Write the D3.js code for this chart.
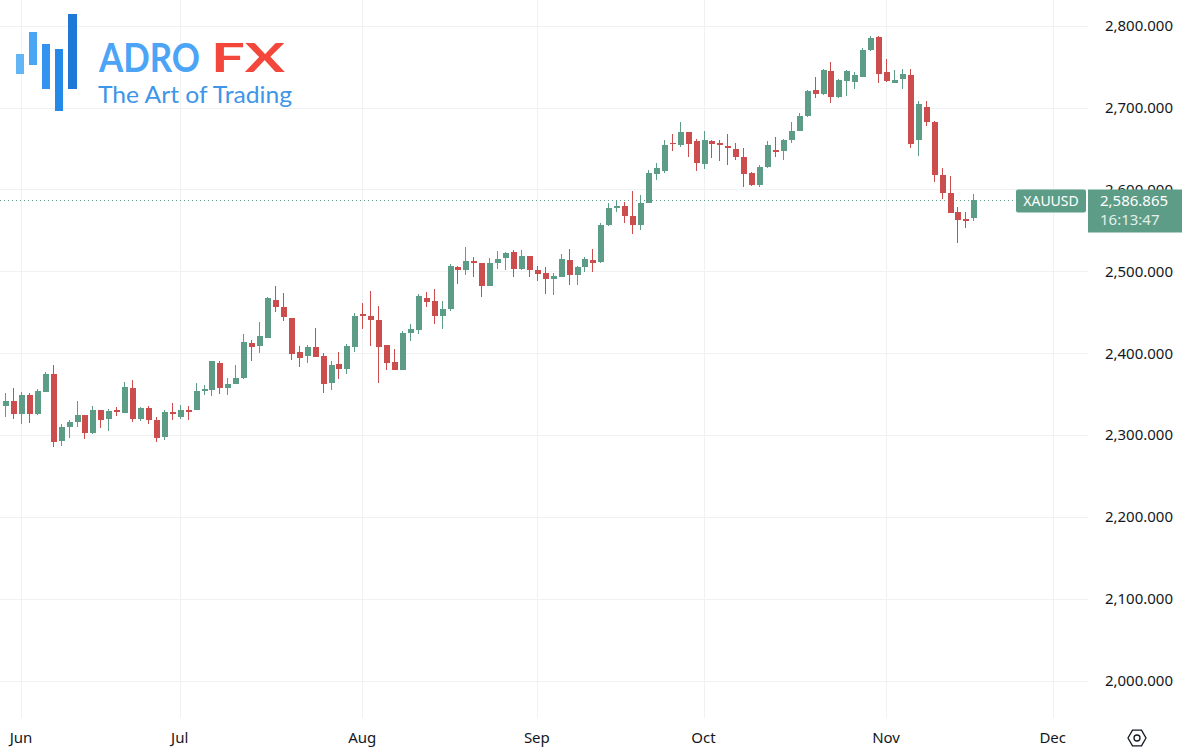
<!DOCTYPE html>
<html>
<head>
<meta charset="utf-8">
<script src="https://cdn.jsdelivr.net/npm/d3@7"></script>
<style>
	html, body { margin: 0; padding: 0; background: #ffffff; }
	svg { display: block; }
</style>
</head>
<body>
<div id="chart"></div>
<script>
// XAUUSD daily candles
const dates = [
	"2024-05-30", "2024-05-31",
	"2024-06-03", "2024-06-04", "2024-06-05", "2024-06-06", "2024-06-07",
	"2024-06-10", "2024-06-11", "2024-06-12", "2024-06-13", "2024-06-14",
	"2024-06-17", "2024-06-18", "2024-06-19", "2024-06-20", "2024-06-21",
	"2024-06-24", "2024-06-25", "2024-06-26", "2024-06-27", "2024-06-28",
	"2024-07-01", "2024-07-02", "2024-07-03", "2024-07-04", "2024-07-05",
	"2024-07-08", "2024-07-09", "2024-07-10", "2024-07-11", "2024-07-12",
	"2024-07-15", "2024-07-16", "2024-07-17", "2024-07-18", "2024-07-19",
	"2024-07-22", "2024-07-23", "2024-07-24", "2024-07-25", "2024-07-26",
	"2024-07-29", "2024-07-30", "2024-07-31", "2024-08-01", "2024-08-02",
	"2024-08-05", "2024-08-06", "2024-08-07", "2024-08-08", "2024-08-09",
	"2024-08-12", "2024-08-13", "2024-08-14", "2024-08-15", "2024-08-16",
	"2024-08-19", "2024-08-20", "2024-08-21", "2024-08-22", "2024-08-23",
	"2024-08-26", "2024-08-27", "2024-08-28", "2024-08-29", "2024-08-30",
	"2024-09-02", "2024-09-03", "2024-09-04", "2024-09-05", "2024-09-06",
	"2024-09-09", "2024-09-10", "2024-09-11", "2024-09-12", "2024-09-13",
	"2024-09-16", "2024-09-17", "2024-09-18", "2024-09-19", "2024-09-20",
	"2024-09-23", "2024-09-24", "2024-09-25", "2024-09-26", "2024-09-27",
	"2024-09-30", "2024-10-01", "2024-10-02", "2024-10-03", "2024-10-04",
	"2024-10-07", "2024-10-08", "2024-10-09", "2024-10-10", "2024-10-11",
	"2024-10-14", "2024-10-15", "2024-10-16", "2024-10-17", "2024-10-18",
	"2024-10-21", "2024-10-22", "2024-10-23", "2024-10-24", "2024-10-25",
	"2024-10-28", "2024-10-29", "2024-10-30", "2024-10-31", "2024-11-01",
	"2024-11-04", "2024-11-05", "2024-11-06", "2024-11-07", "2024-11-08",
	"2024-11-11", "2024-11-12", "2024-11-13", "2024-11-14", "2024-11-15",
	"2024-11-18"
];

const opens = [
	2336, 2342,
	2326, 2349, 2326, 2353, 2374,
	2293, 2310, 2316, 2324, 2302,
	2331, 2319, 2330, 2327, 2357,
	2319, 2333, 2318, 2297, 2328,
	2322, 2330, 2330, 2354, 2355,
	2388, 2357, 2362, 2370, 2412,
	2409, 2419, 2465, 2457, 2443,
	2402, 2396, 2407, 2396, 2363,
	2387, 2381, 2408, 2448, 2446,
	2441, 2410, 2389, 2380, 2425,
	2428, 2468, 2464, 2446, 2454,
	2505, 2502, 2512, 2510, 2482,
	2510, 2516, 2523, 2503, 2519,
	2501, 2498, 2491, 2493, 2514,
	2495, 2505, 2514, 2511, 2556,
	2577, 2580, 2568, 2557, 2584,
	2619, 2622, 2657, 2654, 2670,
	2659, 2631, 2659, 2657, 2653,
	2649, 2640, 2620, 2605, 2627,
	2648, 2647, 2660, 2672, 2690,
	2721, 2717, 2745, 2713, 2733,
	2731, 2738, 2770, 2786, 2743,
	2730, 2735, 2740, 2660, 2701,
	2683, 2618, 2596, 2572, 2564,
	2565
];

const highs = [
	2351, 2358,
	2353, 2351, 2356, 2377, 2386,
	2313, 2318, 2341, 2324, 2335,
	2331, 2332, 2334, 2365, 2367,
	2334, 2336, 2322, 2331, 2339,
	2337, 2335, 2363, 2361, 2391,
	2390, 2370, 2385, 2423, 2416,
	2438, 2469, 2482, 2473, 2443,
	2409, 2410, 2431, 2400, 2390,
	2402, 2411, 2449, 2461, 2476,
	2458, 2410, 2405, 2427, 2436,
	2472, 2475, 2478, 2464, 2509,
	2507, 2530, 2518, 2510, 2516,
	2525, 2524, 2526, 2526, 2519,
	2506, 2505, 2498, 2521, 2527,
	2506, 2517, 2527, 2559, 2584,
	2587, 2585, 2598, 2593, 2624,
	2632, 2661, 2668, 2683, 2670,
	2662, 2672, 2661, 2661, 2668,
	2657, 2651, 2621, 2630, 2659,
	2664, 2662, 2683, 2694, 2722,
	2738, 2747, 2756, 2735, 2746,
	2743, 2773, 2788, 2788, 2759,
	2746, 2747, 2747, 2708, 2708,
	2684, 2626, 2616, 2579, 2573,
	2595
];

const lows = [
	2322, 2320,
	2313, 2315, 2324, 2352, 2285,
	2287, 2296, 2310, 2295, 2301,
	2309, 2305, 2323, 2327, 2316,
	2317, 2314, 2292, 2294, 2318,
	2320, 2318, 2330, 2349, 2348,
	2350, 2349, 2362, 2368, 2390,
	2400, 2418, 2450, 2439, 2392,
	2383, 2388, 2395, 2351, 2355,
	2368, 2375, 2402, 2430, 2409,
	2364, 2380, 2379, 2379, 2415,
	2423, 2457, 2436, 2430, 2451,
	2484, 2496, 2493, 2469, 2482,
	2503, 2502, 2493, 2502, 2493,
	2488, 2472, 2471, 2493, 2483,
	2483, 2499, 2499, 2510, 2555,
	2573, 2559, 2546, 2550, 2583,
	2612, 2620, 2647, 2652, 2640,
	2623, 2625, 2639, 2635, 2630,
	2636, 2603, 2604, 2603, 2626,
	2640, 2636, 2657, 2671, 2689,
	2712, 2716, 2706, 2712, 2714,
	2723, 2737, 2769, 2730, 2731,
	2730, 2723, 2651, 2641, 2678,
	2609, 2588, 2571, 2535, 2553,
	2561
];

const closes = [
	2342, 2326,
	2349, 2326, 2354, 2375, 2292,
	2310, 2316, 2324, 2302, 2331,
	2318, 2329, 2328, 2359, 2320,
	2333, 2318, 2296, 2328, 2326,
	2330, 2328, 2354, 2356, 2390,
	2357, 2362, 2370, 2414, 2408,
	2421, 2467, 2457, 2444, 2399,
	2394, 2408, 2395, 2362, 2385,
	2381, 2409, 2446, 2446, 2441,
	2408, 2388, 2380, 2425, 2430,
	2470, 2463, 2446, 2454, 2507,
	2502, 2512, 2510, 2482, 2510,
	2515, 2522, 2503, 2519, 2502,
	2497, 2491, 2494, 2515, 2495,
	2505, 2515, 2510, 2557, 2577,
	2580, 2567, 2557, 2584, 2620,
	2626, 2654, 2656, 2670, 2655,
	2632, 2661, 2656, 2654, 2651,
	2640, 2619, 2605, 2628, 2654,
	2646, 2660, 2672, 2690, 2720,
	2717, 2746, 2713, 2734, 2745,
	2740, 2771, 2785, 2741, 2733,
	2734, 2741, 2656, 2704, 2682,
	2618, 2596, 2571, 2563, 2561,
	2586.865
];

const priceTicks = [2000, 2100, 2200, 2300, 2400, 2500, 2600, 2700, 2800];
const monthStarts = ["2024-06-01", "2024-07-01", "2024-08-01", "2024-09-01", "2024-10-01", "2024-11-01", "2024-12-01"];

const symbol = "XAUUSD";
const lastPrice = 2586.865;
const countdown = "16:13:47";

const width = 1182;
const height = 756;
const paneRight = 1088;
const paneBottom = 718;

const UP = "#5d9d87";
const DOWN = "#cb4d4d";
const GRID = "#f0f1f3";
const TEXT = "#131722";

const parse = d3.timeParse("%Y-%m-%d");
const origin = parse("2024-06-03");

// bar index counts weekdays from the first June session
function barIndex(date) {
	if (date < origin) {
		return -d3.timeDay.range(date, origin).filter((d) => d.getDay() % 6 !== 0).length;
	}
	return d3.timeDay.range(origin, date).filter((d) => d.getDay() % 6 !== 0).length;
}

function firstWeekday(date) {
	let d = date;
	while (d.getDay() % 6 === 0) d = d3.timeDay.offset(d, 1);
	return d;
}

const candles = dates.map((s, i) => ({
	i: barIndex(parse(s)),
	o: opens[i],
	h: highs[i],
	l: lows[i],
	c: closes[i],
}));

const x = d3.scaleLinear().domain([0, 130]).range([21, 1052.7]);
const y = d3.scaleLinear().domain([2000, 2800]).range([680.5, 25.8]);

const svg = d3
	.select("#chart")
	.append("svg")
	.attr("width", width)
	.attr("height", height)
	.attr("viewBox", `0 0 ${width} ${height}`)
	.style("font-family", "'Noto Sans', Roboto, sans-serif");

// grid
const grid = svg.append("g").attr("class", "grid").attr("shape-rendering", "crispEdges");

grid
	.selectAll("line.h")
	.data(priceTicks)
	.join("line")
	.attr("class", "h")
	.attr("x1", 0)
	.attr("x2", paneRight)
	.attr("y1", (d) => Math.round(y(d)) + 0.5)
	.attr("y2", (d) => Math.round(y(d)) + 0.5)
	.attr("stroke", GRID);

const months = monthStarts.map((s) => {
	const d = firstWeekday(parse(s));
	return { date: d, i: barIndex(d) };
});

grid
	.selectAll("line.v")
	.data(months)
	.join("line")
	.attr("class", "v")
	.attr("x1", (d) => Math.round(x(d.i)) + 0.5)
	.attr("x2", (d) => Math.round(x(d.i)) + 0.5)
	.attr("y1", 0)
	.attr("y2", paneBottom)
	.attr("stroke", GRID);

// logo
const logo = svg.append("g").attr("class", "logo");
const logoBars = [
	{ x: 16, y: 54, w: 8, h: 20, fill: "#64b5f6" },
	{ x: 29, y: 32, w: 8, h: 33, fill: "#4aa5f5" },
	{ x: 42, y: 44, w: 8, h: 45, fill: "#3393ee" },
	{ x: 55, y: 49, w: 8, h: 62, fill: "#2589e8" },
	{ x: 68, y: 14, w: 9, h: 75, fill: "#1d78d6" },
];
logo
	.selectAll("rect")
	.data(logoBars)
	.join("rect")
	.attr("x", (d) => d.x)
	.attr("y", (d) => d.y)
	.attr("width", (d) => d.w)
	.attr("height", (d) => d.h)
	.attr("fill", (d) => d.fill);

logo
	.append("text")
	.attr("x", 99)
	.attr("y", 72)
	.attr("font-family", "Lato, 'Open Sans', sans-serif")
	.attr("font-weight", 700)
	.attr("font-size", 40)
	.attr("textLength", 101)
	.attr("lengthAdjust", "spacingAndGlyphs")
	.attr("fill", "#4ba4f6")
	.text("ADRO");

logo
	.append("text")
	.attr("x", 211)
	.attr("y", 72)
	.attr("font-family", "Lato, 'Open Sans', sans-serif")
	.attr("font-weight", 700)
	.attr("font-size", 40)
	.attr("textLength", 74)
	.attr("lengthAdjust", "spacingAndGlyphs")
	.attr("fill", "#f4473b")
	.text("FX");

logo
	.append("text")
	.attr("x", 98)
	.attr("y", 103)
	.attr("font-family", "Lato, 'Open Sans', sans-serif")
	.attr("font-weight", 400)
	.attr("font-size", 24)
	.attr("textLength", 194)
	.attr("lengthAdjust", "spacingAndGlyphs")
	.attr("fill", "#3f95e8")
	.text("The Art of Trading");

// last price dotted line
svg
	.append("line")
	.attr("x1", 0)
	.attr("x2", 1016)
	.attr("y1", Math.round(y(lastPrice)) + 0.5)
	.attr("y2", Math.round(y(lastPrice)) + 0.5)
	.attr("stroke", UP)
	.attr("stroke-width", 1)
	.attr("stroke-dasharray", "1,3");

// candles
const candleGroup = svg.append("g").attr("class", "candles").attr("shape-rendering", "crispEdges");
const bodyW = 6;

const candle = candleGroup
	.selectAll("g.candle")
	.data(candles)
	.join("g")
	.attr("class", "candle");

candle
	.append("rect")
	.attr("x", (d) => Math.round(x(d.i)))
	.attr("y", (d) => y(d.h))
	.attr("width", 1)
	.attr("height", (d) => Math.max(1, y(d.l) - y(d.h)))
	.attr("fill", (d) => (d.c >= d.o ? UP : DOWN));

candle
	.append("rect")
	.attr("x", (d) => Math.round(x(d.i)) - (bodyW - 1) / 2)
	.attr("y", (d) => y(Math.max(d.o, d.c)))
	.attr("width", bodyW)
	.attr("height", (d) => Math.max(1.5, Math.abs(y(d.o) - y(d.c))))
	.attr("fill", (d) => (d.c >= d.o ? UP : DOWN));

// price axis labels (the 2,600 one sits half under the price tag, as in the reference)
const fmt = d3.format(",.3f");
svg
	.append("g")
	.attr("class", "y-axis")
	.selectAll("text")
	.data(priceTicks)
	.join("text")
	.attr("x", 1173)
	.attr("y", (d) => y(d))
	.attr("dy", "0.36em")
	.attr("text-anchor", "end")
	.attr("font-size", 15)
	.attr("fill", TEXT)
	.text((d) => fmt(d));

// time axis labels
const monthFmt = d3.timeFormat("%b");
svg
	.append("g")
	.attr("class", "x-axis")
	.selectAll("text")
	.data(months)
	.join("text")
	.attr("x", (d) => x(d.i))
	.attr("y", 738)
	.attr("dy", "0.36em")
	.attr("text-anchor", "middle")
	.attr("font-size", 15)
	.attr("fill", TEXT)
	.text((d) => monthFmt(d.date));

// symbol + last price labels
const tag = svg.append("g").attr("class", "price-tag");
tag
	.append("rect")
	.attr("x", 1016)
	.attr("y", 189.5)
	.attr("width", 70)
	.attr("height", 23)
	.attr("rx", 2)
	.attr("fill", UP);
tag
	.append("text")
	.attr("x", 1051)
	.attr("y", 201)
	.attr("dy", "0.36em")
	.attr("text-anchor", "middle")
	.attr("font-size", 14)
	.attr("fill", "#ffffff")
	.text(symbol);

tag
	.append("rect")
	.attr("x", 1088)
	.attr("y", 189.5)
	.attr("width", 94)
	.attr("height", 43)
	.attr("fill", UP);
tag
	.append("text")
	.attr("x", 1100)
	.attr("y", 201)
	.attr("dy", "0.36em")
	.attr("font-size", 15)
	.attr("fill", "#ffffff")
	.text(fmt(lastPrice));
tag
	.append("text")
	.attr("x", 1100)
	.attr("y", 220)
	.attr("dy", "0.36em")
	.attr("font-size", 15)
	.attr("fill", "#e4efea")
	.text(countdown);

// settings hexagon
const hex = d3.range(6).map((k) => {
	const a = (Math.PI / 3) * k;
	return [1137 + 9 * Math.cos(a), 738 + 9 * Math.sin(a)];
});
svg
	.append("polygon")
	.attr("points", hex.map((p) => p.join(",")).join(" "))
	.attr("fill", "none")
	.attr("stroke", TEXT)
	.attr("stroke-width", 1.3);
svg
	.append("circle")
	.attr("cx", 1137)
	.attr("cy", 738)
	.attr("r", 3)
	.attr("fill", "none")
	.attr("stroke", TEXT)
	.attr("stroke-width", 1.3);
</script>
</body>
</html>
